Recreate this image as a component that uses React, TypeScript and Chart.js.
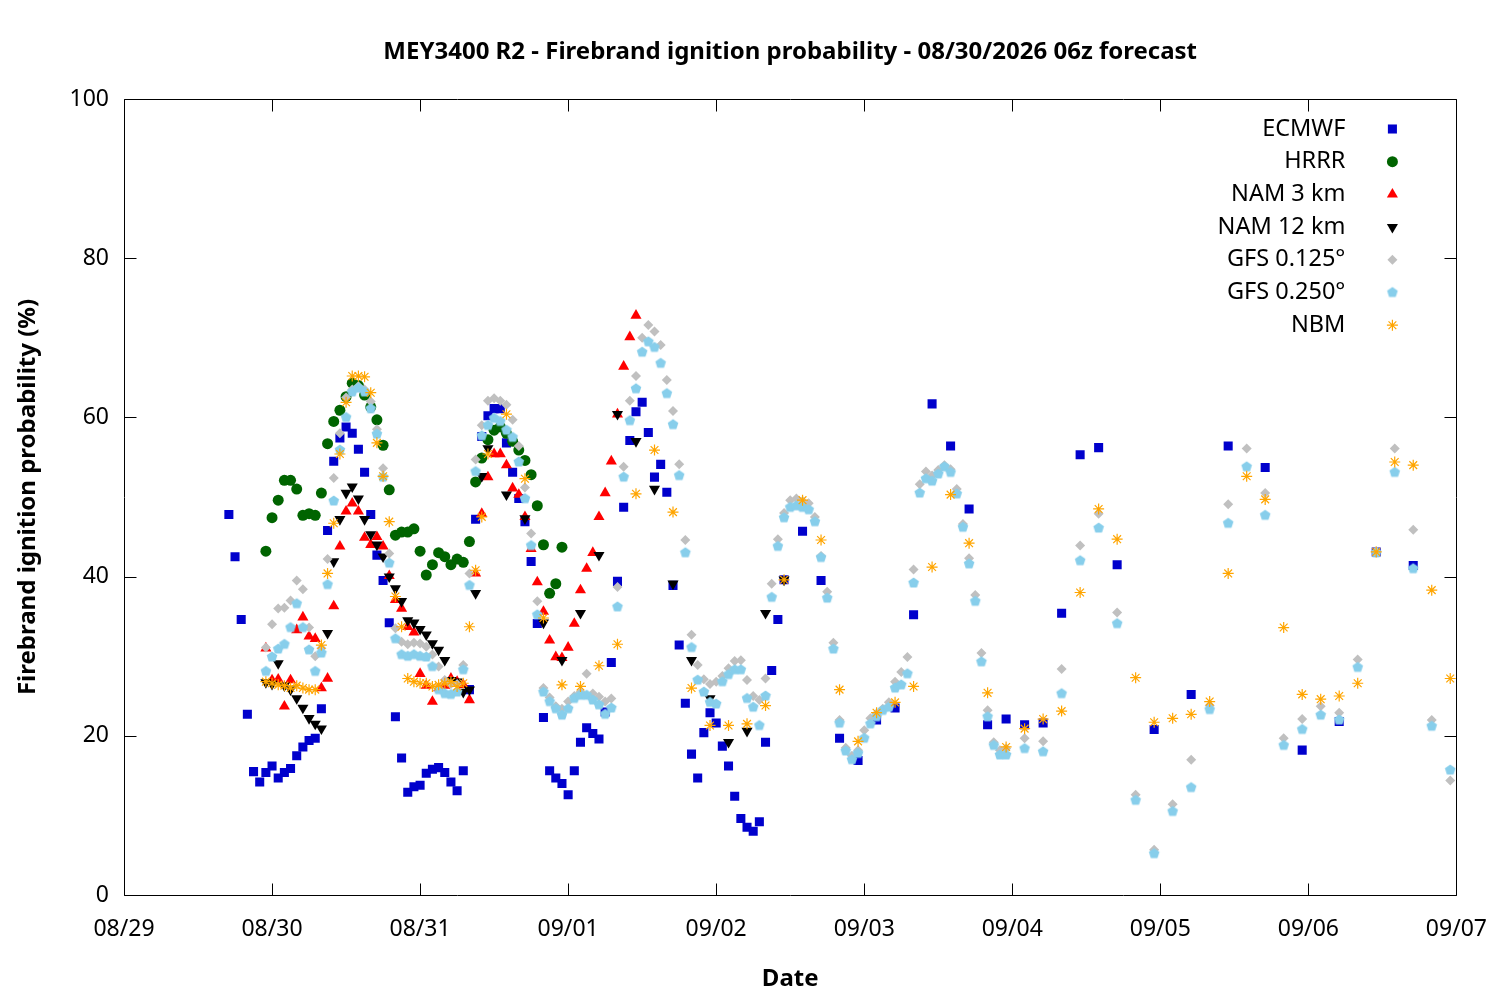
import { useEffect, useRef } from "react";
import { Chart, registerables } from "chart.js";
import { drawPoint } from "chart.js/helpers";

Chart.register(...registerables);

const TITLE = "MEY3400 R2 - Firebrand ignition probability - 08/30/2026 06z forecast";
// one tick per day, x values are hours counted from 08/29 00:00
const DATE_LABELS = ["08/29", "08/30", "08/31", "09/01", "09/02", "09/03", "09/04", "09/05", "09/06", "09/07"];
const Y_TICKS = [0, 20, 40, 60, 80, 100];

// ECMWF: hourly from hour 17, then 3-hourly, then 6-hourly
const ECMWF_1H = [
  47.8, 42.5, 34.6, 22.7, 15.5, 14.2, 15.4, 16.2, 14.7, 15.4, 15.9, 17.5, 18.6, 19.4, 19.7, 23.4,
  45.8, 54.5, 57.4, 58.8, 58.0, 56.0, 53.1, 47.8, 42.7, 39.5, 34.2, 22.4, 17.2, 12.9, 13.6, 13.8,
  15.3, 15.8, 16.0, 15.4, 14.2, 13.1, 15.6, 25.8, 47.2, 57.6, 60.2, 61.1, 61.1, 56.8, 53.1, 49.8,
  46.9, 41.9, 34.1, 22.3, 15.6, 14.7, 14.0, 12.6, 15.6, 19.2, 21.0, 20.3, 19.6, 23.0, 29.2, 39.4,
  48.7, 57.1, 60.7, 61.9, 58.1, 52.5, 54.1, 50.6, 38.9, 31.4, 24.1, 17.7, 14.7, 20.4, 22.9, 21.6,
  18.7, 16.2, 12.4, 9.6, 8.5, 8.0, 9.2, 19.2, 28.2, 34.6, 39.6,
];
const ECMWF_3H = [45.7, 39.5, 19.7, 16.9, 22.0, 23.5, 35.2, 61.7, 56.4, 48.5, 21.4, 22.1, 21.4, 21.6, 35.4, 55.3, 56.2, 41.5];
const ECMWF_6H = [20.8, 25.2, 56.4, 53.7, 18.2, 21.8, 43.1, 41.4];

// HRRR: hourly from hour 23
const HRRR_1H = [
  43.2, 47.4, 49.6, 52.1, 52.1, 51.0, 47.7, 47.9, 47.7, 50.5, 56.7, 59.5, 60.9, 62.6, 64.3, 64.0,
  62.8, 61.3, 59.7, 56.5, 50.9, 45.2, 45.6, 45.6, 46.0, 43.2, 40.2, 41.5, 43.0, 42.5, 41.5, 42.2,
  41.8, 44.4, 51.9, 54.9, 57.2, 58.4, 58.8, 58.0, 57.0, 55.9, 54.6, 52.8, 48.9, 44.0, 37.9, 39.1, 43.7,
];

// NAM 3 km: hourly from hour 23
const NAM3_1H = [
  31.0, 27.0, 27.1, 23.7, 27.0, 33.3, 34.9, 32.5, 32.2, 26.0, 27.2, 36.3, 43.8, 48.2, 49.2, 48.2,
  44.9, 44.0, 45.0, 43.8, 40.1, 37.1, 36.0, 33.7, 33.0, 27.8, 26.3, 24.3, 26.0, 26.3, 27.2, 26.8,
  26.4, 24.5, 40.4, 47.9, 52.5, 55.4, 55.4, 54.0, 51.1, 50.3, 47.5, 43.5, 39.3, 35.6, 32.0, 29.9,
  29.8, 31.1, 34.1, 38.3, 41.0, 43.0, 47.5, 50.5, 54.5, 60.4, 66.4, 70.1, 72.8,
];

// NAM 12 km: hourly from hour 23, then 3-hourly from hour 62
const NAM12_1H = [
  26.7, 26.5, 29.1, 26.3, 25.8, 24.7, 23.5, 22.2, 21.5, 20.9, 32.9, 41.9, 47.2, 50.5, 51.3, 49.8,
  47.2, 45.3, 44.0, 42.5, 40.0, 38.5, 36.9, 34.5, 34.2, 33.4, 32.7, 31.6, 30.8, 29.5, 27.0, 26.8,
  25.5, 25.8, 37.9, 52.6, 56.1,
];
const NAM12_3H = [50.3, 47.3, 34.2, 29.5, 35.4, 42.7, 60.4, 57.0, 51.0, 39.1, 29.5, 24.7, 19.2, 20.6, 35.4, 39.6];

// GFS 0.125: hourly from hour 23, then 3-hourly from hour 146
const GFS125_1H = [
  31.1, 34.0, 36.0, 36.1, 37.0, 39.5, 38.4, 33.6, 30.0, 31.0, 42.2, 52.4, 58.0, 62.5, 63.5, 63.9,
  63.5, 62.0, 58.5, 53.6, 42.9, 33.5, 31.8, 31.5, 31.7, 31.6, 31.2, 30.2, 28.7, 27.0, 26.5, 26.5,
  28.9, 40.4, 54.7, 59.0, 62.1, 62.4, 62.1, 61.6, 59.7, 56.4, 51.2, 45.4, 36.9, 26.0, 24.8, 23.7,
  23.4, 24.3, 25.0, 25.5, 27.8, 25.3, 24.9, 24.3, 24.7, 38.7, 53.8, 62.1, 65.2, 70.0, 71.6, 70.8,
  69.1, 64.7, 60.8, 54.1, 44.6, 32.7, 28.9, 27.1, 26.5, 26.8, 27.5, 28.5, 29.4, 29.5, 27.0, 25.0,
  24.5, 27.2, 39.1, 44.7, 48.0, 49.6, 49.8, 49.5, 49.2, 47.5, 42.6, 38.1, 31.7, 22.0, 18.5, 17.5,
  18.2, 20.7, 22.2, 22.8, 23.4, 24.2, 26.8, 28.0, 29.9, 40.9, 51.6, 53.2, 52.7, 53.4, 54.0, 53.5,
  51.0, 46.6, 42.3, 37.7, 30.4, 23.2, 19.2, 18.2, 18.4,
];
const GFS125_3H = [19.7, 19.3, 28.4, 43.9, 47.9, 35.5, 12.6, 5.7, 11.4, 17.0, 23.8, 49.1, 56.1, 50.5, 19.7, 22.1, 23.7, 22.9, 29.6, 43.2, 56.1, 45.9, 22.0, 14.4];

// GFS 0.250: hourly from hour 23, then 3-hourly from hour 146
const GFS250_1H = [
  28.1, 29.9, 30.9, 31.5, 33.6, 36.6, 33.6, 30.8, 28.1, 30.4, 39.0, 49.5, 55.9, 60.0, 63.2, 63.7,
  63.2, 61.1, 57.9, 52.5, 41.7, 32.2, 30.2, 30.0, 30.2, 30.0, 29.9, 28.7, 25.8, 25.3, 25.2, 25.5,
  28.3, 38.9, 53.2, 57.7, 59.0, 59.9, 59.5, 58.4, 57.5, 54.4, 49.8, 43.9, 35.2, 25.5, 24.3, 23.4,
  22.6, 23.4, 24.7, 25.1, 25.1, 24.5, 23.9, 22.7, 23.5, 36.2, 52.5, 59.6, 63.6, 68.2, 69.5, 68.8,
  66.8, 63.0, 59.1, 52.7, 43.0, 31.1, 27.0, 25.5, 24.2, 24.0, 26.8, 27.7, 28.3, 28.3, 24.7, 23.6,
  21.3, 25.0, 37.4, 43.8, 47.4, 48.7, 48.9, 48.7, 48.4, 46.9, 42.4, 37.3, 30.9, 21.6, 18.1, 17.0,
  17.8, 19.7, 21.5, 22.4, 23.2, 23.6, 26.0, 26.4, 27.8, 39.2, 50.5, 52.3, 52.0, 52.9, 53.8, 53.1,
  50.4, 46.2, 41.6, 36.9, 29.3, 22.4, 18.8, 17.6, 17.6,
];
const GFS250_3H = [18.4, 18.0, 25.3, 42.0, 46.1, 34.1, 11.9, 5.2, 10.5, 13.5, 23.3, 46.7, 53.8, 47.7, 18.8, 20.8, 22.6, 22.0, 28.6, 43.0, 53.1, 41.0, 21.2, 15.7];

// NBM: hourly from hour 23, then 3-hourly from hour 62
const NBM_1H = [
  26.8, 26.6, 26.4, 26.3, 26.0, 26.3, 26.0, 25.8, 25.8, 31.4, 40.4, 46.7, 55.4, 61.9, 65.2, 65.2,
  65.1, 63.1, 56.8, 52.6, 46.9, 37.5, 33.7, 27.2, 26.8, 26.6, 26.6, 26.2, 26.4, 26.6, 26.8, 26.2,
  26.6, 33.7, 40.8, 47.5, 55.4,
];
const NBM_3H = [
  60.4, 52.3, 34.8, 26.4, 26.2, 28.8, 31.5, 50.4, 55.9, 48.1, 26.0, 21.3, 21.3, 21.5, 23.8, 39.6,
  49.6, 44.6, 25.8, 19.3, 22.9, 24.2, 26.2, 41.2, 50.3, 44.2, 25.4, 18.6, 20.9, 22.1, 23.1, 38.0,
  48.5, 44.7, 27.3, 21.7, 22.2, 22.7, 24.3, 40.4, 52.6, 49.7, 33.6, 25.2, 24.6, 25.0, 26.6, 43.1,
  54.4, 54.0, 38.3, 27.2,
];

function seq(start: number, step: number, values: number[]) {
  return values.map((y, i) => ({ x: start + i * step, y }));
}

function makePentagon(r: number, color: string) {
  const c = document.createElement("canvas");
  const size = Math.ceil(r * 2) + 2;
  c.width = size;
  c.height = size;
  const g = c.getContext("2d")!;
  g.fillStyle = color;
  g.beginPath();
  for (let k = 0; k < 5; k++) {
    const a = -Math.PI / 2 + (k * 2 * Math.PI) / 5;
    const px = size / 2 + r * Math.cos(a);
    const py = size / 2 + r * Math.sin(a);
    if (k === 0) g.moveTo(px, py);
    else g.lineTo(px, py);
  }
  g.closePath();
  g.fill();
  return c;
}

const FONT = "'Noto Sans', sans-serif";

// frame round the plot with gnuplot-like inward ticks on all four sides
const framePlugin = {
  id: "frameTicks",
  beforeDatasetsDraw(chart: any) {
    const { ctx, chartArea: a, scales } = chart;
    const L = Math.round(a.left) + 0.5;
    const R = Math.round(a.right) + 0.5;
    const T = Math.round(a.top) + 0.5;
    const B = Math.round(a.bottom) + 0.5;
    const len = 12;
    ctx.save();
    ctx.strokeStyle = "#000";
    ctx.lineWidth = 1;
    ctx.beginPath();
    ctx.rect(L, T, R - L, B - T);
    scales.x.ticks.forEach((t: any) => {
      const px = Math.round(scales.x.getPixelForValue(t.value)) + 0.5;
      ctx.moveTo(px, B);
      ctx.lineTo(px, B - len);
      ctx.moveTo(px, T);
      ctx.lineTo(px, T + len);
    });
    scales.y.ticks.forEach((t: any) => {
      const py = Math.round(scales.y.getPixelForValue(t.value)) + 0.5;
      ctx.moveTo(L, py);
      ctx.lineTo(L + len, py);
      ctx.moveTo(R, py);
      ctx.lineTo(R - len, py);
    });
    ctx.stroke();
    ctx.restore();
  },
};

// key in the upper right corner: text right-aligned, marker after it
const keyPlugin = {
  id: "cornerKey",
  afterDatasetsDraw(chart: any) {
    const { ctx, chartArea: a } = chart;
    ctx.save();
    ctx.font = `23.5px ${FONT}`;
    ctx.textAlign = "right";
    ctx.textBaseline = "middle";
    chart.data.datasets.forEach((ds: any, i: number) => {
      const y = a.top + 30 + i * 32.7;
      ctx.fillStyle = "#000";
      ctx.fillText(ds.label, a.right - 111, y);
      ctx.fillStyle = ds.pointBackgroundColor;
      ctx.strokeStyle = ds.pointBorderColor;
      ctx.lineWidth = ds.pointBorderWidth;
      drawPoint(
        ctx,
        {
          pointStyle: ds.pointStyle,
          rotation: ds.pointRotation || 0,
          radius: ds.pointRadius,
          borderWidth: ds.pointBorderWidth,
        } as any,
        a.right - 64,
        y
      );
    });
    ctx.restore();
  },
};

export default function App() {
  const canvasRef = useRef<HTMLCanvasElement>(null);

  useEffect(() => {
    if (!canvasRef.current) return;

    const series = [
      {
        label: "ECMWF",
        data: [...seq(17, 1, ECMWF_1H), ...seq(110, 3, ECMWF_3H), ...seq(167, 6, ECMWF_6H)],
        style: "rect" as any,
        color: "#0000cc",
        radius: 6.4,
      },
      { label: "HRRR", data: seq(23, 1, HRRR_1H), style: "circle", color: "#006400", radius: 5.5 },
      { label: "NAM 3 km", data: seq(23, 1, NAM3_1H), style: "triangle", color: "#ff0000", radius: 6.4 },
      {
        label: "NAM 12 km",
        data: [...seq(23, 1, NAM12_1H), ...seq(62, 3, NAM12_3H)],
        style: "triangle",
        rotation: 180,
        color: "#000000",
        radius: 6.4,
      },
      {
        label: "GFS 0.125°",
        data: [...seq(23, 1, GFS125_1H), ...seq(146, 3, GFS125_3H)],
        style: "rectRot",
        color: "#c0c0c0",
        radius: 5,
      },
      {
        label: "GFS 0.250°",
        data: [...seq(23, 1, GFS250_1H), ...seq(146, 3, GFS250_3H)],
        style: makePentagon(5.6, "#87ceeb"),
        color: "#87ceeb",
        radius: 5.6,
      },
      {
        label: "NBM",
        data: [...seq(23, 1, NBM_1H), ...seq(62, 3, NBM_3H)],
        style: "star",
        color: "#ffa500",
        radius: 5.5,
        line: true,
      },
    ];

    const chart = new Chart(canvasRef.current, {
      type: "scatter",
      data: {
        datasets: series.map((s: any, i) => ({
          label: s.label,
          data: s.data,
          showLine: false,
          order: series.length - i,
          pointStyle: s.style,
          pointRotation: s.rotation || 0,
          pointRadius: s.radius,
          pointHoverRadius: s.radius,
          pointBackgroundColor: s.color,
          pointBorderColor: s.color,
          pointBorderWidth: s.line ? 1.2 : 0,
        })),
      },
      options: {
        responsive: false,
        animation: false,
        layout: { padding: { left: 0, right: 36, top: 0, bottom: 0 } },
        plugins: {
          legend: { display: false },
          tooltip: { enabled: false },
          title: {
            display: true,
            text: TITLE,
            fullSize: false,
            color: "#000",
            font: { family: FONT, size: 24, weight: "bold" },
            padding: { top: 37.4, bottom: 32.8 },
          },
        },
        scales: {
          x: {
            type: "linear",
            min: 0,
            max: 216,
            afterFit: (s: any) => {
              s.height = 105;
            },
            afterBuildTicks: (s: any) => {
              s.ticks = DATE_LABELS.map((_, i) => ({ value: i * 24 }));
            },
            grid: { display: false },
            border: { display: false },
            ticks: {
              color: "#000",
              font: { family: FONT, size: 23 },
              padding: 13,
              maxRotation: 0,
              autoSkip: false,
              callback: (v: any) => DATE_LABELS[Math.round(Number(v) / 24)],
            },
            title: {
              display: true,
              text: "Date",
              color: "#000",
              font: { family: FONT, size: 24, weight: "bold" },
              padding: { top: 0, bottom: 6 },
            },
          },
          y: {
            min: 0,
            max: 100,
            afterFit: (s: any) => {
              s.width = 124;
            },
            afterBuildTicks: (s: any) => {
              s.ticks = Y_TICKS.map((v) => ({ value: v }));
            },
            grid: { display: false },
            border: { display: false },
            ticks: {
              color: "#000",
              font: { family: FONT, size: 23 },
              padding: 7,
            },
            title: {
              display: true,
              text: "Firebrand ignition probability (%)",
              color: "#000",
              font: { family: FONT, size: 24, weight: "bold" },
              padding: { top: 13.5, bottom: 0 },
            },
          },
        },
      },
      plugins: [framePlugin, keyPlugin],
    });

    return () => {
      chart.destroy();
    };
  }, []);

  return (
    <div style={{ position: "absolute", left: 0, top: 0, width: 1500, height: 1000, background: "#fff" }}>
      <canvas ref={canvasRef} width={1500} height={1000} style={{ display: "block" }} />
    </div>
  );
}
